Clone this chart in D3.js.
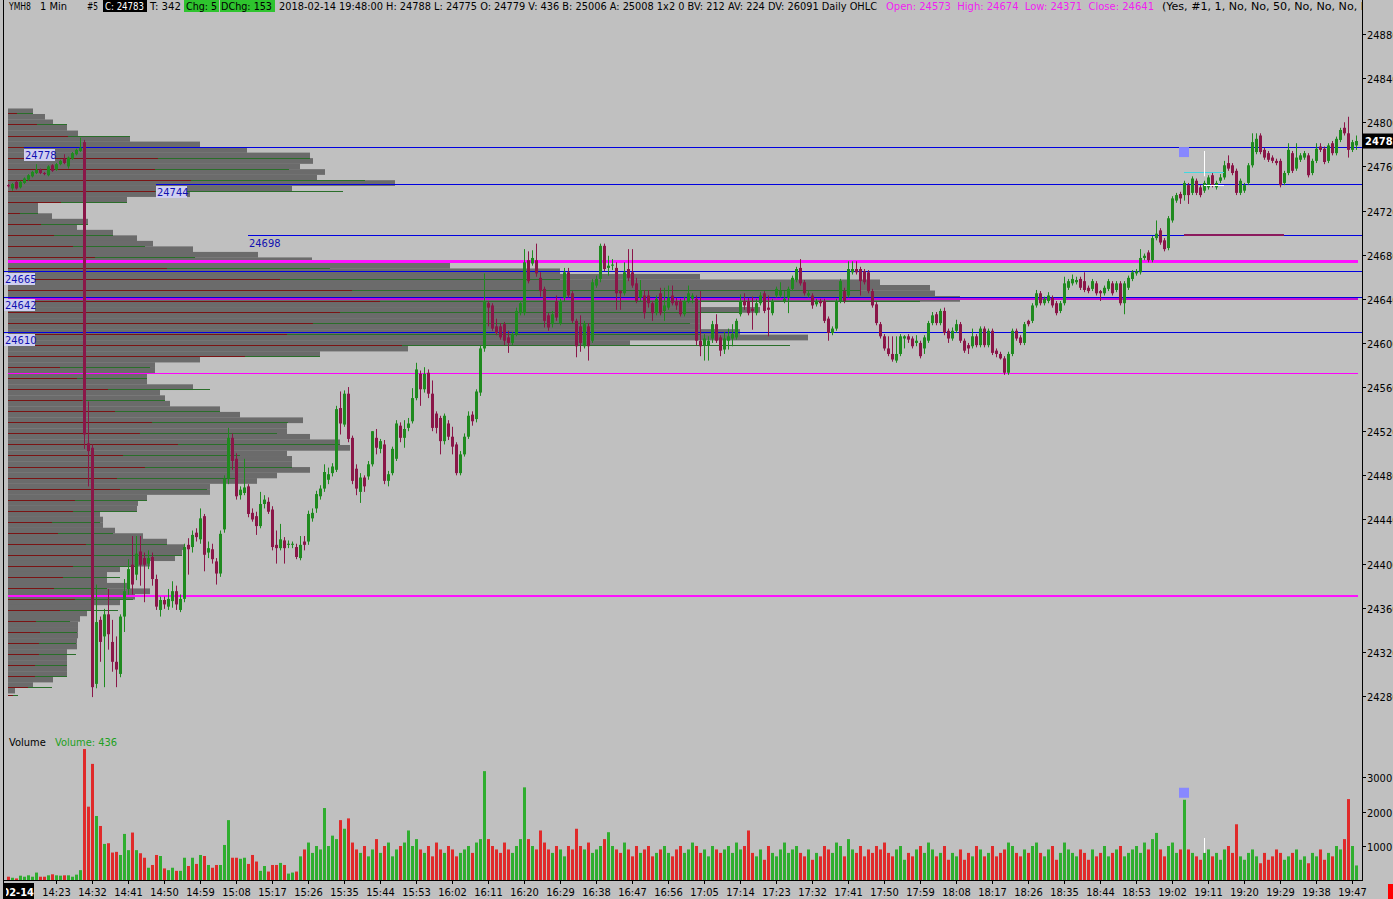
<!DOCTYPE html>
<html><head><meta charset="utf-8">
<script src="https://cdn.jsdelivr.net/npm/d3@7"></script>
<style>body{margin:0;background:#c0c0c0;overflow:hidden}svg{display:block}</style>
</head><body><svg id="c" width="1393" height="899"></svg>
<script>
// ---------------- DATA ----------------
const firstBarTime = "14:11";
const opens = [24743,24740,24746,24741,24745,24748,24751,24754,24757,24754,
24752,24761,24757,24762,24767,24760,24767,24771,24774,24782,
24509,24505,24291,24349,24334,24354,24329,24311,24300,24352,
24377,24399,24390,24411,24405,24400,24406,24386,24358,24367,
24361,24366,24375,24358,24368,24417,24415,24428,24422,24443,
24410,24413,24402,24391,24431,24477,24514,24495,24462,24464,
24470,24446,24443,24434,24454,24456,24449,24417,24414,24421,
24417,24417,24415,24405,24420,24420,24441,24450,24461,24468,
24476,24482,24485,24541,24526,24554,24514,24486,24465,24478,
24479,24490,24514,24504,24508,24475,24482,24495,24525,24514,
24523,24529,24550,24572,24558,24573,24554,24536,24532,24511,
24527,24515,24508,24482,24499,24515,24535,24531,24555,24595,
24636,24634,24615,24615,24617,24605,24600,24608,24627,24627,
24675,24672,24675,24659,24649,24625,24617,24638,24618,24641,
24664,24645,24620,24615,24597,24615,24602,24652,24658,24688,
24668,24670,24668,24647,24645,24667,24664,24654,24641,24643,
24643,24636,24627,24645,24629,24632,24643,24638,24638,24626,
24638,24640,24640,24602,24598,24598,24604,24617,24605,24594,
24602,24604,24605,24626,24638,24638,24631,24627,24636,24645,
24632,24627,24643,24643,24638,24641,24649,24657,24668,24655,
24643,24643,24635,24638,24638,24622,24609,24613,24638,24647,
24643,24664,24667,24667,24665,24664,24647,24635,24617,24606,
24595,24590,24584,24590,24604,24606,24604,24600,24600,24595,
24602,24618,24626,24618,24629,24611,24604,24611,24617,24602,
24598,24597,24606,24598,24613,24598,24611,24593,24590,24586,
24573,24590,24611,24605,24600,24620,24620,24634,24645,24636,
24638,24641,24636,24629,24636,24650,24654,24655,24658,24656,
24650,24649,24654,24647,24645,24649,24654,24648,24654,24636,
24650,24658,24663,24664,24677,24682,24675,24695,24702,24693,
24686,24711,24729,24735,24734,24743,24736,24747,24741,24738,
24741,24752,24741,24747,24750,24763,24761,24756,24736,24738,
24745,24761,24773,24788,24775,24772,24768,24765,24765,24745,
24754,24772,24758,24766,24768,24770,24754,24765,24778,24776,
24765,24781,24772,24784,24795,24790,24775,24779];
const highs = [24744,24745,24747,24747,24750,24753,24756,24762,24758,24755,
24761,24762,24763,24766,24771,24769,24773,24776,24786,24784,
24547,24508,24381,24352,24359,24377,24349,24334,24354,24386,
24404,24425,24425,24425,24410,24412,24410,24390,24370,24370,
24377,24384,24380,24372,24418,24423,24430,24432,24450,24445,
24420,24418,24405,24430,24480,24523,24518,24500,24470,24495,
24472,24450,24447,24465,24462,24460,24452,24430,24436,24424,
24421,24420,24418,24425,24425,24448,24450,24466,24471,24490,
24487,24491,24543,24556,24557,24560,24516,24490,24482,24480,
24493,24520,24522,24513,24512,24484,24506,24530,24528,24530,
24532,24559,24582,24575,24578,24576,24566,24538,24534,24536,
24530,24524,24510,24502,24518,24538,24538,24558,24598,24663,
24638,24636,24622,24618,24619,24611,24610,24632,24638,24685,
24683,24684,24690,24664,24651,24627,24629,24643,24640,24668,
24668,24647,24622,24625,24620,24618,24658,24661,24690,24690,
24679,24676,24673,24648,24673,24685,24685,24659,24657,24648,
24648,24638,24643,24650,24650,24652,24652,24641,24640,24642,
24652,24645,24643,24647,24608,24606,24620,24626,24607,24610,
24613,24617,24622,24644,24645,24641,24642,24640,24646,24647,
24643,24640,24651,24655,24647,24651,24661,24669,24676,24657,
24647,24645,24640,24640,24640,24624,24615,24640,24658,24650,
24674,24674,24674,24669,24667,24666,24649,24637,24619,24608,
24606,24606,24606,24608,24607,24608,24606,24607,24602,24607,
24620,24628,24628,24631,24632,24613,24614,24621,24619,24604,
24600,24613,24608,24615,24615,24613,24613,24595,24592,24588,
24592,24613,24613,24607,24619,24621,24636,24648,24647,24642,
24646,24643,24638,24638,24660,24658,24662,24660,24660,24664,
24652,24658,24656,24648,24652,24658,24656,24656,24656,24656,
24661,24666,24667,24685,24681,24684,24697,24711,24704,24695,
24715,24733,24736,24737,24747,24745,24751,24749,24743,24747,
24752,24754,24747,24753,24765,24770,24763,24758,24749,24745,
24763,24790,24790,24790,24777,24774,24770,24767,24767,24756,
24781,24774,24781,24772,24774,24772,24767,24781,24781,24778,
24781,24783,24787,24795,24800,24805,24784,24788];
const lows = [24741,24738,24739,24740,24744,24747,24750,24753,24753,24752,
24751,24755,24756,24761,24762,24758,24766,24770,24773,24504,
24470,24279,24287,24311,24288,24322,24302,24288,24297,24338,
24372,24372,24385,24380,24365,24395,24380,24358,24352,24359,
24358,24360,24358,24356,24365,24390,24410,24420,24418,24393,
24405,24400,24381,24388,24428,24472,24485,24458,24458,24462,
24442,24438,24426,24432,24450,24445,24412,24400,24412,24400,
24414,24414,24404,24403,24412,24417,24438,24446,24458,24465,
24472,24479,24483,24517,24524,24510,24472,24462,24455,24465,
24476,24488,24499,24500,24472,24470,24480,24493,24510,24505,
24520,24527,24548,24543,24555,24550,24520,24518,24499,24508,
24512,24499,24480,24480,24497,24513,24525,24528,24552,24592,
24615,24611,24607,24603,24598,24591,24598,24606,24625,24625,
24654,24670,24660,24642,24614,24611,24614,24620,24616,24638,
24641,24618,24587,24592,24595,24584,24600,24650,24655,24665,
24661,24666,24630,24630,24643,24656,24650,24636,24638,24622,
24632,24620,24625,24625,24620,24630,24634,24630,24624,24624,
24636,24636,24598,24588,24584,24584,24600,24600,24588,24590,
24594,24597,24603,24624,24630,24625,24612,24625,24634,24627,
24606,24625,24641,24641,24636,24627,24647,24655,24652,24643,
24641,24631,24633,24633,24618,24602,24607,24611,24636,24636,
24641,24662,24662,24643,24653,24645,24632,24616,24604,24593,
24588,24583,24582,24588,24595,24600,24595,24597,24586,24590,
24600,24616,24616,24616,24607,24600,24602,24609,24600,24591,
24590,24595,24596,24596,24596,24596,24589,24587,24585,24571,
24571,24588,24602,24598,24598,24615,24618,24632,24634,24634,
24636,24632,24625,24627,24634,24648,24652,24653,24648,24646,
24645,24647,24643,24638,24643,24647,24643,24646,24634,24626,
24648,24656,24661,24662,24675,24673,24673,24693,24689,24683,
24684,24709,24727,24726,24729,24726,24734,24734,24732,24736,
24739,24741,24739,24745,24748,24756,24752,24734,24734,24736,
24743,24759,24771,24771,24766,24764,24763,24761,24741,24743,
24752,24754,24756,24764,24766,24750,24752,24763,24773,24762,
24763,24770,24770,24782,24788,24768,24773,24775];
const closes = [24742,24744,24740,24746,24749,24752,24755,24757,24754,24753,
24760,24756,24762,24765,24763,24768,24772,24775,24777,24517,
24502,24288,24347,24329,24354,24336,24311,24304,24352,24375,
24395,24381,24409,24399,24399,24405,24386,24361,24367,24363,
24368,24375,24363,24368,24415,24413,24426,24424,24441,24408,
24414,24404,24391,24427,24477,24514,24493,24461,24467,24469,
24445,24440,24434,24454,24458,24447,24415,24414,24422,24414,
24418,24418,24406,24417,24417,24445,24446,24463,24468,24483,
24481,24488,24540,24527,24554,24513,24475,24468,24478,24470,
24490,24520,24505,24511,24475,24481,24504,24527,24514,24522,
24527,24550,24576,24558,24572,24554,24523,24523,24511,24534,
24515,24506,24482,24499,24515,24534,24529,24556,24595,24638,
24632,24613,24609,24605,24602,24600,24608,24629,24636,24673,
24656,24677,24663,24647,24620,24614,24626,24623,24638,24664,
24643,24620,24597,24600,24617,24597,24655,24658,24688,24667,
24670,24671,24645,24645,24664,24659,24652,24638,24647,24627,
24636,24627,24640,24627,24634,24641,24636,24634,24626,24638,
24645,24643,24602,24597,24604,24602,24617,24602,24593,24604,
24606,24608,24620,24638,24634,24627,24629,24636,24643,24629,
24630,24638,24649,24647,24640,24649,24659,24667,24654,24645,
24645,24634,24638,24636,24620,24609,24613,24638,24656,24638,
24667,24667,24664,24656,24655,24647,24634,24618,24606,24595,
24590,24585,24590,24606,24606,24603,24597,24602,24588,24605,
24618,24625,24618,24629,24609,24604,24611,24617,24602,24593,
24595,24606,24598,24613,24598,24611,24591,24590,24586,24573,
24590,24611,24604,24600,24617,24617,24634,24645,24636,24640,
24643,24634,24627,24636,24654,24656,24658,24657,24650,24648,
24647,24656,24645,24645,24650,24656,24645,24654,24636,24654,
24659,24664,24665,24677,24679,24675,24695,24699,24691,24685,
24713,24731,24734,24731,24745,24734,24749,24736,24734,24745,
24750,24743,24745,24750,24761,24758,24754,24736,24747,24743,
24761,24782,24785,24773,24768,24766,24765,24763,24743,24754,
24775,24756,24768,24770,24772,24752,24765,24776,24775,24764,
24779,24772,24785,24793,24790,24775,24782,24783];
const volumes = [110,80,60,140,110,150,110,230,110,110,
150,180,150,140,150,150,110,170,300,3810,
2140,3380,1870,1580,1060,1080,810,830,740,1350,
880,1390,880,790,660,370,450,740,710,350,
300,370,280,280,660,420,660,480,740,710,
450,370,450,450,1030,1750,660,660,630,660,
480,740,550,280,420,260,450,450,510,450,
200,230,260,700,900,1100,800,1000,900,2100,
1000,1300,1200,1750,1500,1800,1100,900,800,1000,
700,900,1200,800,1000,1100,700,900,1000,1100,
1450,1000,1200,900,800,1000,700,1100,900,800,
1000,900,700,800,900,1000,800,1100,1200,3170,
1200,1000,900,800,1100,900,800,1000,1200,2700,
1200,1000,900,1450,1100,900,800,1000,900,700,
1000,900,1500,1000,900,1100,800,900,1000,1200,
1400,1000,900,800,1100,900,700,1000,800,900,
1000,700,800,900,1000,800,700,900,1000,800,
900,1100,1000,800,900,700,1000,900,800,900,
1000,800,1100,900,1000,1450,800,700,900,600,
1000,800,700,900,1100,800,900,1000,800,700,
900,600,800,700,1000,900,800,1100,1000,700,
1200,900,800,1000,700,900,800,1000,900,1100,
800,700,900,1000,600,800,700,900,1000,800,
1100,900,700,800,1000,600,800,700,900,600,
800,700,1000,900,700,800,1000,700,800,900,
1100,1000,800,700,900,800,1000,1100,800,700,
900,1000,600,800,1100,900,800,700,900,800,
600,900,700,800,1000,700,800,900,1000,700,
800,900,1000,800,1100,900,1200,1380,900,700,
1000,1100,800,900,2340,900,800,700,600,800,
900,700,800,600,900,1000,800,1630,700,600,
800,900,700,500,800,600,700,900,800,600,
700,800,900,600,700,500,800,700,900,600,
800,700,1000,900,1200,2360,1000,436];

const timeLabels = ["14:23","14:32","14:41","14:50","14:59","15:08","15:17","15:26","15:35","15:44","15:53","16:02","16:11","16:20","16:29","16:38","16:47","16:56","17:05","17:14","17:23","17:32","17:41","17:50","17:59","18:08","18:17","18:26","18:35","18:44","18:53","19:02","19:11","19:20","19:29","19:38","19:47"];
const dateLabel = "02-14"; const dateLabelTime = "14:14";
const priceTicks = [24280,24320,24360,24400,24440,24480,24520,24560,24600,24640,24680,24720,24760,24800,24840,24880];
const volumeTicks = [1000,2000,3000];

// volume profile, 5-point rows
const profilePrices = [24810,24805,24800,24795,24790,24785,24780,24775,24770,24765,24760,24755,24750,24745,24740,24735,24730,24725,24720,24715,24710,24705,24700,24695,24690,24685,24680,24675,24670,24665,24660,24655,24650,24645,24640,24635,24630,24625,24620,24615,24610,24605,24600,24595,24590,24585,24580,24575,24570,24565,24560,24555,24550,24545,24540,24535,24530,24525,24520,24515,24510,24505,24500,24495,24490,24485,24480,24475,24470,24465,24460,24455,24450,24445,24440,24435,24430,24425,24420,24415,24410,24405,24400,24395,24390,24385,24380,24375,24370,24365,24360,24355,24350,24345,24340,24335,24330,24325,24320,24315,24310,24305,24300,24295,24290,24285];
const profileVolumes = [250,370,450,590,700,1220,1920,2390,3020,3050,2920,3170,3090,3870,2840,1820,1190,300,300,440,800,690,1050,1290,1450,1850,2500,3040,4420,5520,6920,8720,9220,9270,9520,6920,7520,6920,6920,6920,7320,8000,6220,4000,3120,1920,1470,1470,1390,1390,1850,1520,1570,1620,2120,2320,2950,2790,2790,3020,3320,3420,2790,2840,2840,3020,2690,2490,2020,2020,1390,1300,1290,920,950,950,1070,1350,1590,1770,1740,1670,1420,1120,990,990,1190,1420,1270,1120,840,790,720,700,700,700,690,690,590,590,590,590,590,450,250,70];
// bid/ask split lines, 10-point rows
const splitPrices = [24808,24798,24788,24778,24768,24758,24748,24738,24728,24718,24708,24698,24688,24678,24668,24658,24648,24638,24628,24618,24608,24598,24588,24578,24568,24558,24548,24538,24528,24518,24508,24498,24488,24478,24468,24458,24448,24438,24428,24418,24408,24398,24388,24378,24368,24358,24348,24338,24328,24318,24308,24298,24288,24281];
const sellVolumes = [90,290,600,770,1500,1470,1830,1470,530,120,330,460,650,870,1590,2720,3440,3720,3320,3050,2790,3940,2370,520,690,1000,740,1070,1440,1320,1700,1150,1370,1090,1120,670,650,440,500,780,850,650,550,460,670,520,280,320,310,310,270,270,200,50];
const buyVolumes = [160,300,620,1600,1520,1340,1740,1880,660,180,470,590,720,1000,1630,2800,5080,5400,4000,3770,4130,3880,750,900,700,1020,830,1050,1360,1370,1620,1170,1470,1200,870,720,640,480,550,810,890,650,570,530,580,580,340,370,370,370,320,320,240,50];

const levelPrices = [24778,24744,24698,24665,24642,24610];
const levelStartTimes = ["14:15","14:48","15:11",null,null,null];
const dailyOpen = 24573, dailyHigh = 24674, dailyLow = 24371, dailyClose = 24641;
const lastPrice = 24783, lastVolume = 436;
const signalTime = "19:05", signalPrice = 24773;
const targetPrice = 24698, targetEndTime = "19:30";
const cyanPrice = 24755, cyanEndTime = "19:15";
const whiteTime = "19:10", whiteHigh = 24774, whiteLow = 24751, whiteBase = 24743, whiteEndTime = "19:15";

const headerParts = [
  {t:"YMH8", x:9, w:22},{t:"1 Min", x:40, w:27},{t:"#5", x:87, w:11},
  {t:"C: 24783", x:105, w:39, box:"#000", fg:"#fff", bx:103, bw:44},
  {t:"T: 342", x:150, w:31},
  {t:"Chg: 5", x:186, w:31, box:"#2ec42e", bx:184, bw:35},
  {t:"DChg: 153", x:221, w:51, box:"#2ec42e", bx:220, bw:55},
  {t:"2018-02-14 19:48:00 H: 24788 L: 24775 O: 24779 V: 436 B: 25006 A: 25008 1x2 0 BV: 212 AV: 224 DV: 26091 Daily OHLC", x:279, w:598},
  {t:"Open: 24573\u00a0 High: 24674\u00a0 Low: 24371\u00a0 Close: 24641", x:886, w:268, fg:"#f020f0"},
  {t:"(Yes, #1, 1, No, No, 50, No, No, No, No, No", x:1162, w:236}
];

// ---------------- DRAW ----------------
const FONT = "'DejaVu Sans Condensed','DejaVu Sans',sans-serif";
const toMin = s => { const [h,m] = s.split(":").map(Number); return h*60+m; };
const t0 = toMin(firstBarTime);
const n = closes.length;
const x = d3.scaleLinear().domain([t0, t0 + n - 1]).range([8, 1356]);
const y = d3.scaleLinear().domain([24280, 24880]).range([696, 34]);
const yv = d3.scaleLinear().domain([0, 3000]).range([880.5, 777]);
const px = d3.scaleLinear().domain([0, 10000]).range([8, 1008]);
const UP = "#1f8a1f", DN = "#8a1648", VUP = "#2fae2f", VDN = "#e02a2a";
const BLUE = "#0000e0";

const svg = d3.select("#c");
svg.append("rect").attr("width",1393).attr("height",899).attr("fill","#c0c0c0");
const defs = svg.append("defs");
defs.append("clipPath").attr("id","plot").append("rect").attr("x",4).attr("y",13).attr("width",1358).attr("height",867);
defs.append("clipPath").attr("id","hdr").append("rect").attr("x",0).attr("y",0).attr("width",1362).attr("height",14);
defs.append("clipPath").attr("id","rax").append("rect").attr("x",1362).attr("y",0).attr("width",31).attr("height",899);
defs.append("clipPath").attr("id","dbox").append("rect").attr("x",6).attr("y",880).attr("width",40).attr("height",19);
const g = svg.append("g").attr("clip-path","url(#plot)");

// profile
g.append("g").selectAll("rect").data(profilePrices).join("rect")
  .attr("x", px(0)).attr("y", p => y(p + 2.5))
  .attr("width", (p,i) => px(profileVolumes[i]) - px(0))
  .attr("height", p => y(p - 2.5) - y(p + 2.5) + 0.2)
  .attr("fill", "#6b6b6b");
const sl = g.append("g");
splitPrices.forEach((p,i) => {
  const yy = Math.round(y(p)) + 0.5;
  sl.append("line").attr("x1",px(0)).attr("x2",px(sellVolumes[i])).attr("y1",yy).attr("y2",yy).attr("stroke","#7a1414");
  sl.append("line").attr("x1",px(sellVolumes[i])).attr("x2",px(sellVolumes[i]+buyVolumes[i])).attr("y1",yy).attr("y2",yy).attr("stroke","#2a6e2a");
});

// daily lines
const hl = (p, col, w, x1, x2) => g.append("line").attr("x1",x1).attr("x2",x2)
  .attr("y1", Math.round(y(p)) + (w%2?0.5:0)).attr("y2", Math.round(y(p)) + (w%2?0.5:0))
  .attr("stroke", col).attr("stroke-width", w).attr("shape-rendering","crispEdges");
hl(dailyOpen, "#ff00ff", 1, 8, 1358);
hl(dailyHigh, "#ff10ff", 3, 8, 1358);
hl(dailyLow, "#ff10ff", 2, 8, 1358);
hl(dailyClose, "#c010d0", 3, 8, 1358);
// level lines
levelPrices.forEach((p,i) => {
  const xs = levelStartTimes[i] ? x(toMin(levelStartTimes[i])) : 4;
  hl(p, BLUE, 1, xs, 1362);
});
// target line
hl(targetPrice, "#8c1a5e", 2, x(toMin(signalTime)), x(toMin(targetEndTime)));

// candles
const cg = g.append("g");
d3.range(n).forEach(i => {
  const cx = Math.round(x(t0 + i));
  const col = closes[i] >= opens[i] ? UP : DN;
  cg.append("line").attr("x1",cx+0.5).attr("x2",cx+0.5).attr("y1",y(highs[i])).attr("y2",y(lows[i])).attr("stroke",col);
  const top = y(Math.max(opens[i],closes[i])), bot = y(Math.min(opens[i],closes[i]));
  cg.append("rect").attr("x",cx-1).attr("y",top).attr("width",3).attr("height",Math.max(1,bot-top)).attr("fill",col);
});

// annotations near 19:05
g.append("line").attr("x1",x(toMin(signalTime))).attr("x2",x(toMin(cyanEndTime))).attr("y1",Math.round(y(cyanPrice))+0.5).attr("y2",Math.round(y(cyanPrice))+0.5).attr("stroke","#40d8e0");
g.append("line").attr("x1",x(toMin(whiteTime))+0.5).attr("x2",x(toMin(whiteTime))+0.5).attr("y1",y(whiteHigh)).attr("y2",y(whiteLow)).attr("stroke","#ffffff");
g.append("line").attr("x1",x(toMin(whiteTime))).attr("x2",x(toMin(whiteEndTime))).attr("y1",Math.round(y(whiteBase))+0.5).attr("y2",Math.round(y(whiteBase))+0.5).attr("stroke","#ffffff");
g.append("rect").attr("x",x(toMin(signalTime))-5).attr("y",y(signalPrice)-5).attr("width",10).attr("height",10).attr("fill","#8888ff");

// level labels
levelPrices.forEach((p,i) => {
  const xs = levelStartTimes[i] ? x(toMin(levelStartTimes[i])) : 4;
  const yy = Math.round(y(p));
  g.append("rect").attr("x",xs).attr("y",yy+2).attr("width",31).attr("height",12).attr("fill","#cfcff0").attr("opacity",levelStartTimes[i]==="15:11"?0:1);
  g.append("text").attr("x",xs+1).attr("y",yy+12).text(String(p)).attr("font-family",FONT).attr("font-size",11).attr("fill","#1010b0");
});

// volume bars
const vg = g.append("g");
d3.range(n).forEach(i => {
  const cx = Math.round(x(t0 + i));
  vg.append("rect").attr("x",cx-1).attr("y",yv(volumes[i])).attr("width",3).attr("height",yv(0)-yv(volumes[i]))
    .attr("fill", closes[i] >= opens[i] ? VUP : VDN);
});
const si = toMin(signalTime) - t0;
g.append("rect").attr("x",x(toMin(signalTime))-5).attr("y",yv(volumes[si])-12).attr("width",10).attr("height",10).attr("fill","#8888ff");
g.append("line").attr("x1",x(toMin(whiteTime))+0.5).attr("x2",x(toMin(whiteTime))+0.5).attr("y1",838).attr("y2",yv(volumes[toMin(whiteTime)-t0])).attr("stroke","#fff");
svg.append("text").attr("x",9).attr("y",746).text("Volume").attr("font-family",FONT).attr("font-size",11).attr("fill","#000");
svg.append("text").attr("x",55).attr("y",746).text("Volume: " + lastVolume).attr("font-family",FONT).attr("font-size",11).attr("fill","#20a020");

// right axis
svg.append("line").attr("x1",1362.5).attr("x2",1362.5).attr("y1",0).attr("y2",881).attr("stroke","#000");
const ra = svg.append("g").attr("clip-path","url(#rax)");
priceTicks.forEach(p => {
  const yy = Math.round(y(p)) + 0.5;
  ra.append("line").attr("x1",1362).attr("x2",1366).attr("y1",yy).attr("y2",yy).attr("stroke","#000");
  ra.append("text").attr("x",1367).attr("y",yy+4).text(p).attr("font-family",FONT).attr("font-size",11).attr("fill","#000");
});
volumeTicks.forEach(v => {
  const yy = Math.round(yv(v)) + 0.5;
  ra.append("line").attr("x1",1362).attr("x2",1366).attr("y1",yy).attr("y2",yy).attr("stroke","#000");
  ra.append("text").attr("x",1367).attr("y",yy+4).text(v).attr("font-family",FONT).attr("font-size",11).attr("fill","#000");
});
const ly = y(lastPrice);
ra.append("rect").attr("x",1363).attr("y",ly-7.5).attr("width",30).attr("height",15).attr("fill","#000");
ra.append("text").attr("x",1365).attr("y",ly+4).text(lastPrice).attr("font-family",FONT).attr("font-size",11).attr("font-weight","bold").attr("fill","#fff");

// bottom axis
svg.append("line").attr("x1",3).attr("x2",1363).attr("y1",880.5).attr("y2",880.5).attr("stroke","#000");
timeLabels.forEach(t => {
  const xx = Math.round(x(toMin(t))) + 0.5;
  svg.append("line").attr("x1",xx).attr("x2",xx).attr("y1",880).attr("y2",884).attr("stroke","#000");
  svg.append("text").attr("x",xx).attr("y",896).attr("text-anchor","middle").text(t).attr("font-family",FONT).attr("font-size",11).attr("fill","#000");
});
const dx = x(toMin(dateLabelTime));
svg.append("rect").attr("x",4).attr("y",883).attr("width",dx+14-4).attr("height",16).attr("fill","#000");
svg.append("text").attr("x",dx+14).attr("y",896).attr("text-anchor","end").attr("clip-path","url(#dbox)").text(dateLabel).attr("font-family",FONT).attr("font-size",11).attr("font-weight","bold").attr("fill","#fff");
svg.append("rect").attr("x",0).attr("y",0).attr("width",3).attr("height",899).attr("fill","#c0c0c0");
svg.append("line").attr("x1",3.5).attr("x2",3.5).attr("y1",0).attr("y2",899).attr("stroke","#000");
svg.append("rect").attr("x",1388).attr("y",884).attr("width",5).attr("height",15).attr("fill","#ff0000");

// header
const hg = svg.append("g").attr("clip-path","url(#hdr)");
headerParts.forEach(h => {
  if (h.box) hg.append("rect").attr("x",h.bx).attr("y",0).attr("width",h.bw).attr("height",12).attr("fill",h.box);
  hg.append("text").attr("x",h.x).attr("y",9.5).text(h.t).attr("font-family",FONT).attr("font-size",11)
    .attr("fill",h.fg || "#000").attr("textLength",h.w).attr("lengthAdjust","spacingAndGlyphs");
});
</script>
</body></html>
